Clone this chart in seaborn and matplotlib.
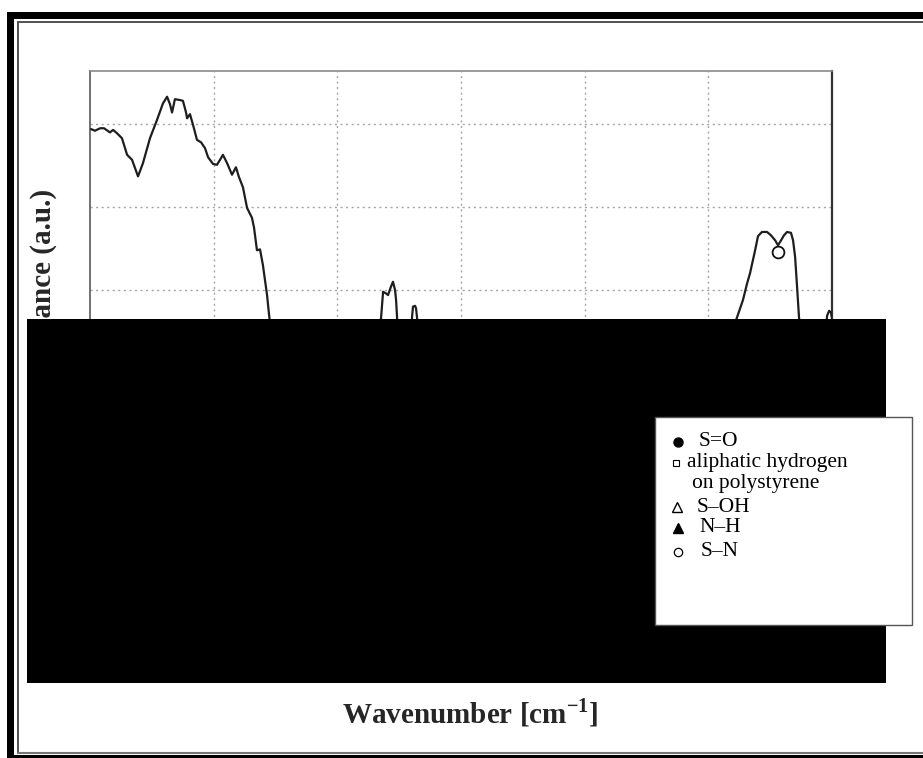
import matplotlib
matplotlib.use("Agg")
import matplotlib.pyplot as plt
from matplotlib.patches import Rectangle
from matplotlib.lines import Line2D
import pandas as pd
import seaborn as sns

# FTIR spectrum (wavenumber in cm^-1, absorbance in a.u.)
wavenumber = [3995, 3976, 3951, 3932, 3903, 3888, 3869, 3845, 3820, 3796,
              3767, 3743, 3709, 3675, 3646, 3626, 3612, 3602, 3588, 3563,
              3549, 3534, 3529, 3515, 3500, 3481, 3461, 3442, 3427, 3403,
              3384, 3369, 3355, 3335, 3311, 3292, 3277, 3258, 3238, 3214,
              3204, 3190, 3175, 3161, 3151, 3141, 3132, 3117, 2981, 2739,
              2651, 2632, 2610, 2588, 2578, 2564, 2554, 2540, 2530, 2520,
              2515, 2510, 2501, 2472, 2442, 2438, 2433, 2423, 2418, 2413,
              2404, 2011, 1283, 880, 861, 832, 812, 798, 773, 759,
              740, 715, 696, 676, 662, 647, 633, 618, 599, 589,
              579, 570, 560, 550, 482, 429, 424, 414, 405, 400]
absorbance = [0.594, 0.592, 0.595, 0.595, 0.590, 0.593, 0.589, 0.583, 0.563, 0.557,
              0.537, 0.553, 0.583, 0.605, 0.625, 0.633, 0.624, 0.614, 0.630, 0.629,
              0.628, 0.614, 0.607, 0.612, 0.599, 0.581, 0.578, 0.571, 0.560, 0.552,
              0.551, 0.557, 0.563, 0.553, 0.539, 0.548, 0.536, 0.524, 0.499, 0.487,
              0.475, 0.448, 0.449, 0.430, 0.412, 0.394, 0.372, 0.340, 0.316, 0.328,
              0.346, 0.364, 0.350, 0.366, 0.398, 0.396, 0.394, 0.404, 0.410, 0.400,
              0.388, 0.366, 0.346, 0.340, 0.352, 0.366, 0.380, 0.381, 0.378, 0.366,
              0.346, 0.334, 0.334, 0.352, 0.367, 0.388, 0.408, 0.420, 0.448, 0.465,
              0.470, 0.470, 0.466, 0.460, 0.454, 0.460, 0.466, 0.470, 0.469, 0.460,
              0.440, 0.406, 0.367, 0.346, 0.340, 0.352, 0.369, 0.375, 0.373, 0.366]

# S-N band marker
sn_wavenumber = [662]
sn_absorbance = [0.446]

x_grid = [3400, 2800, 2200, 1600, 1000]
y_grid = [0.1, 0.2, 0.3, 0.4, 0.5, 0.6]

legend_labels = ["S=O", "aliphatic hydrogen", "on polystyrene",
                 "S\u2013OH", "N\u2013H", "S\u2013N"]

W, H = 923, 758

sns.set_theme(style="white")
plt.rcParams["font.family"] = ["Liberation Serif", "DejaVu Serif"]
plt.rcParams["mathtext.fontset"] = "custom"
plt.rcParams["mathtext.rm"] = "Liberation Serif"
plt.rcParams["mathtext.bf"] = "Liberation Serif:bold"

fig = plt.figure(figsize=(W / 100, H / 100), dpi=100)
fig.patch.set_facecolor("white")


def fx(px):
    return px / W


def fy(py):
    return 1 - py / H


ax = fig.add_axes([fx(90), fy(622), fx(832) - fx(90), fy(71) - fy(622)])
ax.set_facecolor("white")

df = pd.DataFrame({"wavenumber": wavenumber, "absorbance": absorbance})
sns.lineplot(data=df, x="wavenumber", y="absorbance", ax=ax, color="#1e1e1e",
             linewidth=1.6, estimator=None, sort=False, zorder=3)
ax.plot(sn_wavenumber, sn_absorbance, linestyle="none", marker="o", ms=8.5,
        mfc="none", mec="#111111", mew=1.3, zorder=4)

ax.set_xlim(4000, 400)
ax.set_ylim(0, 0.664)
ax.set_xticks(x_grid)
ax.set_yticks(y_grid)
ax.tick_params(length=0, labelbottom=False, labelleft=False)
ax.set_xlabel("")
ax.set_ylabel("")
ax.grid(True, color="#a5a5a5", linestyle=(0, (1.5, 2.5)), linewidth=1.0)
ax.spines["left"].set_color("#666666")
ax.spines["left"].set_linewidth(1.3)
ax.spines["top"].set_color("#8a8a8a")
ax.spines["top"].set_linewidth(1.2)
ax.spines["right"].set_color("#333333")
ax.spines["right"].set_linewidth(1.6)
ax.spines["bottom"].set_visible(False)

# page frame: thick black border with a thin inner rule
fig.add_artist(Rectangle((fx(7), fy(758)), fx(7), fy(12) - fy(758),
                         transform=fig.transFigure, color="black", lw=0, zorder=8))
fig.add_artist(Rectangle((fx(7), fy(19)), 1, fy(12) - fy(19),
                         transform=fig.transFigure, color="black", lw=0, zorder=8))
fig.add_artist(Rectangle((fx(7), 0), 1, fy(755),
                         transform=fig.transFigure, color="black", lw=0, zorder=8))
fig.add_artist(Line2D([fx(17.5), fx(17.5)], [fy(22), fy(753)],
                      transform=fig.transFigure, color="#444444", lw=1.3, zorder=8))
fig.add_artist(Line2D([fx(17.5), 1], [fy(22), fy(22)],
                      transform=fig.transFigure, color="#444444", lw=1.3, zorder=8))
fig.add_artist(Line2D([fx(17.5), 1], [fy(753), fy(753)],
                      transform=fig.transFigure, color="#777777", lw=1.5, zorder=8))

# opaque block over the lower panel
fig.add_artist(Rectangle((fx(27), fy(683)), fx(886) - fx(27), fy(319) - fy(683),
                         transform=fig.transFigure, color="black", lw=0, zorder=9))

# legend box
fig.add_artist(Rectangle((fx(655), fy(625)), fx(912) - fx(655), fy(417) - fy(625),
                         transform=fig.transFigure, facecolor="white",
                         edgecolor="#555555", lw=1.0, zorder=10))

sym_style = dict(transform=fig.transFigure, linestyle="none", zorder=11)
fig.add_artist(Line2D([fx(678)], [fy(442)], marker="o", ms=6.5, mfc="black",
                      mec="black", **sym_style))
fig.add_artist(Line2D([fx(676)], [fy(463)], marker="s", ms=4.4, mfc="white",
                      mec="black", mew=0.8, **sym_style))
fig.add_artist(Line2D([fx(677)], [fy(507)], marker="^", ms=7.2, mfc="white",
                      mec="black", mew=1.0, **sym_style))
fig.add_artist(Line2D([fx(678)], [fy(528)], marker="^", ms=7.2, mfc="black",
                      mec="black", **sym_style))
fig.add_artist(Line2D([fx(678)], [fy(552)], marker="o", ms=6.0, mfc="white",
                      mec="black", mew=0.9, **sym_style))

text_style = dict(fontsize=15.5, ha="left", va="center", color="black", zorder=11)
fig.text(fx(699), fy(441), legend_labels[0], **text_style)
fig.text(fx(687), fy(462), legend_labels[1], **text_style)
fig.text(fx(692), fy(483), legend_labels[2], **text_style)
fig.text(fx(697), fy(507), legend_labels[3], **text_style)
fig.text(fx(699), fy(528), legend_labels[4], **text_style)
fig.text(fx(701), fy(552), legend_labels[5], **text_style)

# axis titles
fig.text(fx(470), fy(713), r"Wavenumber [cm$^{\mathbf{-1}}$]", fontsize=21,
         fontweight="bold", ha="center", va="center", zorder=11)
fig.text(fx(43), fy(189), "Absorbance (a.u.)", fontsize=21, fontweight="bold",
         rotation=90, ha="center", va="top", zorder=7)

fig.savefig("out.png", dpi=100, facecolor="white")
